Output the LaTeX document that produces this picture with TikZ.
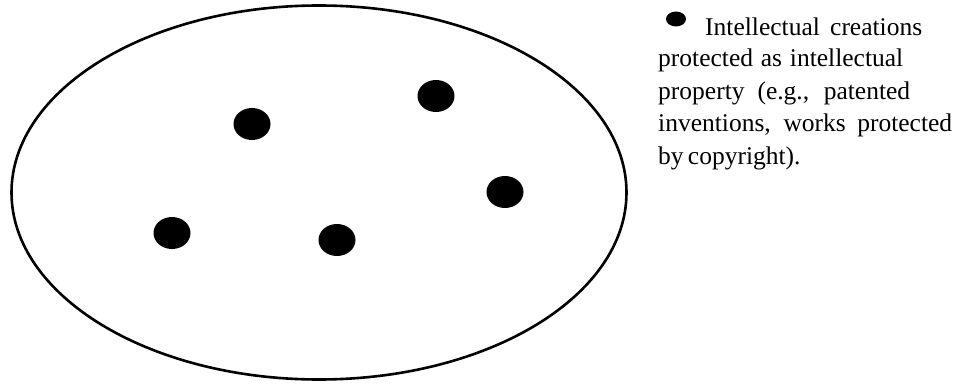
\documentclass[tikz,border=0pt]{standalone}
\usepackage{fontspec}
\setmainfont{Liberation Serif}
\begin{document}
\begin{tikzpicture}[x=1pt,y=-1pt,
  dot/.style={fill=black},
  legendtext/.style={anchor=base west,inner sep=0pt,font=\fontsize{25.5}{32}\selectfont}]
\useasboundingbox (0,0) rectangle (959,385);
\draw[line width=2.6pt] (319,192.5) ellipse [x radius=307.5, y radius=187];
\fill[dot] (252,124) ellipse [x radius=18.5, y radius=16];
\fill[dot] (436,96) ellipse [x radius=18.5, y radius=16];
\fill[dot] (172,233) ellipse [x radius=18.5, y radius=16];
\fill[dot] (337,240) ellipse [x radius=18.5, y radius=16];
\fill[dot] (505,192) ellipse [x radius=18.5, y radius=16];
\fill[dot] (676,19) ellipse [x radius=10, y radius=7.5];
\node[legendtext] (l1) at (705,36) {\makebox[217pt][s]{Intellectual creations}};
\node[legendtext] (l2) at (658,67) {\makebox[245pt][s]{protected as intellectual}};
\node[legendtext] (l3) at (658,100) {\makebox[252pt][s]{property (e.g., patented}};
\node[legendtext] (l4) at (658,132) {\makebox[294pt][s]{inventions, works protected}};
\node[legendtext] (l5) at (658,165) {\makebox[142pt][s]{by copyright).}};
\end{tikzpicture}
\end{document}
